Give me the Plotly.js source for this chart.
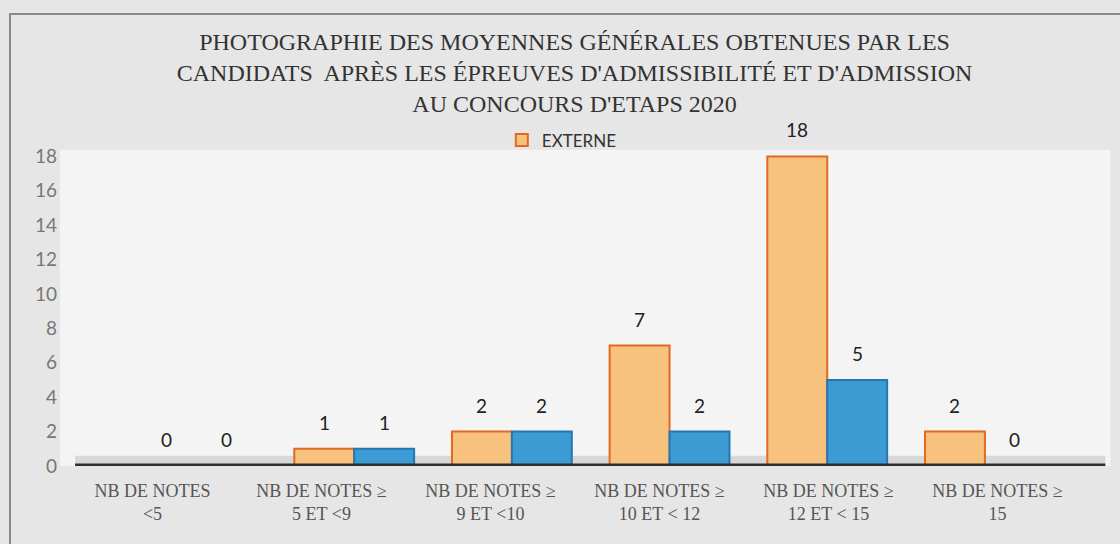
<!DOCTYPE html>
<html><head><meta charset="utf-8">
<script src="https://cdn.plot.ly/plotly-3.0.1.min.js"></script>
<style>html,body{margin:0;padding:0;background:#e6e6e6;}#c{width:1120px;height:544px;}</style>
</head><body><div id="c"></div>
<script>
const categories = ["NB DE NOTES<br><5", "NB DE NOTES ≥<br>5 ET <9", "NB DE NOTES ≥<br>9 ET <10", "NB DE NOTES ≥<br>10 ET < 12", "NB DE NOTES ≥<br>12 ET < 15", "NB DE NOTES ≥<br>15"];
const externe = [0, 1, 2, 7, 18, 2];
const interne = [0, 1, 2, 2, 5, 0];
const yTicks = [0, 2, 4, 6, 8, 10, 12, 14, 16, 18];

const lblFont = {family: "Lato, 'Open Sans', sans-serif", size: 19, color: "#222"};
const traces = [
  {type: "scatter", mode: "markers", x: categories, y: categories.map(() => null),
   xaxis: "x", yaxis: "y", showlegend: false, hoverinfo: "skip"},
  {type: "bar", name: "EXTERNE", x: categories, y: externe, xaxis: "x2", yaxis: "y",
   marker: {color: "#f6c27e", line: {color: "#e2691e", width: 2}}},
  {type: "bar", name: "INTERNE", x: categories, y: interne, xaxis: "x2", yaxis: "y", showlegend: false,
   marker: {color: "#3d9bd3", line: {color: "#2676b3", width: 2}}}
];
const annotations = [];
categories.forEach((c, i) => {
  annotations.push({x: c, y: externe[i], text: String(externe[i]), xref: "x2", yref: "y",
    showarrow: false, xshift: -30, yshift: 13, yanchor: "bottom", font: lblFont});
  annotations.push({x: c, y: interne[i], text: String(interne[i]), xref: "x2", yref: "y",
    showarrow: false, xshift: 30, yshift: 13, yanchor: "bottom", font: lblFont});
});
const layout = {
  width: 1120, height: 544,
  paper_bgcolor: "#e6e6e6", plot_bgcolor: "rgba(0,0,0,0)",
  margin: {l: 68, r: 38, t: 153, b: 78},
  barmode: "group", bargap: 0.24, bargroupgap: 0,
  title: {text: "PHOTOGRAPHIE DES MOYENNES GÉNÉRALES OBTENUES PAR LES<br>CANDIDATS  APRÈS LES ÉPREUVES D'ADMISSIBILITÉ ET D'ADMISSION<br>AU CONCOURS D'ETAPS 2020",
          font: {family: "'Liberation Serif', 'DejaVu Serif', serif", size: 24, color: "#333"},
          x: 0.513, xanchor: "center", y: 1 - 50 / 544, yanchor: "middle"},
  showlegend: true,
  legend: {orientation: "h", x: 0.487, xanchor: "center", y: 1.04, yanchor: "middle",
           font: {family: "Lato, 'Open Sans', sans-serif", size: 17, color: "#333"}, bgcolor: "rgba(0,0,0,0)"},
  annotations: annotations,
  xaxis: {type: "category", domain: [0, 1], anchor: "y", range: [-0.5, 5.5],
          tickfont: {family: "'Liberation Serif', serif", size: 18, color: "#555"},
          showgrid: false, showline: false, ticks: "", ticklen: 0, zeroline: false, ticklabelstandoff: 12},
  xaxis2: {type: "category", domain: [0.049, 0.982], anchor: "y", range: [-0.5, 5.5],
           showticklabels: false, showgrid: false, showline: false, ticks: "", zeroline: false},
  yaxis: {range: [0, 18.2], tickvals: yTicks, ticktext: yTicks.map(String), anchor: "x",
          tickfont: {family: "Lato, 'Open Sans', sans-serif", size: 19, color: "#777"},
          showgrid: false, zeroline: false, showline: false, ticks: "", ticklabelstandoff: 10},
  shapes: [
    {type: "rect", xref: "paper", yref: "paper", x0: -0.0572, x1: 1.045, y0: -0.27, y1: 1.444,
     line: {color: "#8a8a8a", width: 2}, fillcolor: "rgba(0,0,0,0)", layer: "below"},
    {type: "rect", xref: "paper", yref: "paper", x0: -0.008, x1: 1.028, y0: 0, y1: 1.01,
     line: {width: 0}, fillcolor: "#f4f4f4", layer: "below"},
    {type: "rect", xref: "paper", yref: "y", x0: 0.007, x1: 1.023, y0: 0, y1: 0.6,
     line: {width: 0}, fillcolor: "#d8d8d8", layer: "below"},
    {type: "line", xref: "paper", yref: "y", x0: 0.007, x1: 1.023, y0: 0, y1: 0,
     line: {color: "#2e2e2e", width: 5}, layer: "above"}
  ]
};
Plotly.newPlot("c", traces, layout, {displayModeBar: false, staticPlot: true});
</script></body></html>
